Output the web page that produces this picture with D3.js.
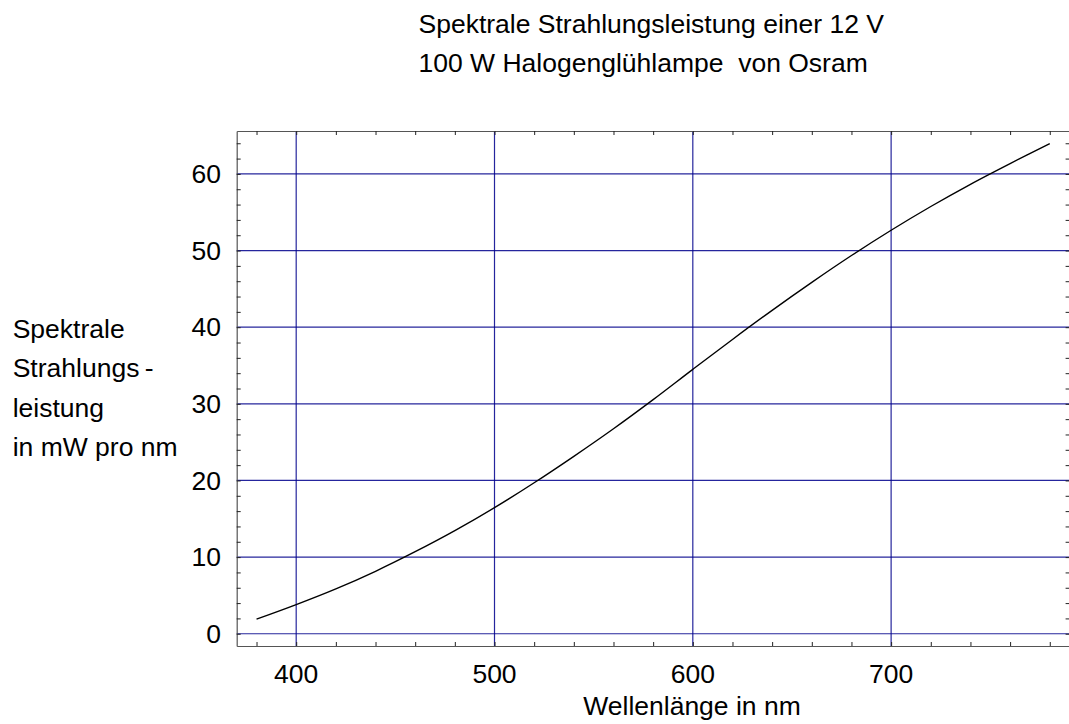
<!DOCTYPE html>
<html>
<head>
<meta charset="utf-8">
<script src="https://cdn.jsdelivr.net/npm/d3@7"></script>
<style>
  html, body { margin: 0; padding: 0; background: #fff; }
  svg { display: block; }
  text { font-family: "Liberation Sans", Arial, Helvetica, sans-serif; fill: #000; }
</style>
</head>
<body>
<svg id="chart" width="1069" height="724"></svg>
<script>
// Spectral radiant power of a 12 V / 100 W halogen lamp (mW per nm)
const wavelengths = [380, 400, 420, 440, 460, 480, 500, 520, 540, 560, 580, 600,
                     620, 640, 660, 680, 700, 720, 740, 760, 780];
const power = [1.9, 3.8, 5.85, 8.15, 10.7, 13.45, 16.45, 19.7, 23.15, 26.75, 30.55, 34.5,
               38.4, 42.2, 45.85, 49.35, 52.65, 55.75, 58.65, 61.35, 63.95];

const xMajorTicks = [400, 500, 600, 700];
const xMinorTicks = d3.range(380, 781, 20);
const yMajorTicks = [0, 10, 20, 30, 40, 50, 60];
const yMinorTicks = d3.range(0, 65, 2);

const titleLines = ["Spektrale Strahlungsleistung einer 12 V", "100 W Halogenglühlampe  von Osram"];
const yLabelLines = ["Spektrale", "Strahlungs\u2009-", "leistung", "in mW pro nm"];
const xLabel = "Wellenlänge in nm";

const svg = d3.select("#chart");
const plotLeft = 236.7, plotRight = 1069.6, plotTop = 131, plotBottom = 646;

const x = d3.scaleLinear().domain([370, 790]).range([plotLeft, plotRight]);
const y = d3.scaleLinear().domain([-1.6, 65.6]).range([plotBottom, plotTop]);

const gridColor = "#00008c";
const frameColor = "#555";

// grid lines
const grid = svg.append("g");
grid.selectAll("line.v").data(xMajorTicks).join("line")
  .attr("class", "v")
  .attr("x1", d => x(d)).attr("x2", d => x(d))
  .attr("y1", plotTop).attr("y2", plotBottom)
  .attr("stroke", gridColor).attr("stroke-width", 1.2).attr("opacity", 0.85);
grid.selectAll("line.h").data(yMajorTicks).join("line")
  .attr("class", "h")
  .attr("x1", plotLeft).attr("x2", plotRight)
  .attr("y1", d => y(d)).attr("y2", d => y(d))
  .attr("stroke", gridColor).attr("stroke-width", 1.2).attr("opacity", 0.85);

// frame axes with ticks pointing inward
function styleAxis(g) {
  g.select(".domain").attr("stroke", frameColor).attr("stroke-width", 1.2);
  g.selectAll(".tick line").attr("stroke", "#222").attr("stroke-width", 1);
  g.selectAll(".tick text").remove();
}

svg.append("g").attr("transform", `translate(0,${plotBottom})`)
  .call(d3.axisBottom(x).tickValues(xMinorTicks).tickSize(-4).tickSizeOuter(0)).call(styleAxis);
svg.append("g").attr("transform", `translate(0,${plotTop})`)
  .call(d3.axisTop(x).tickValues(xMinorTicks).tickSize(-4).tickSizeOuter(0)).call(styleAxis);
svg.append("g").attr("transform", `translate(${plotLeft},0)`)
  .call(d3.axisLeft(y).tickValues(yMinorTicks).tickSize(-4).tickSizeOuter(0)).call(styleAxis);
svg.append("g").attr("transform", `translate(${plotRight},0)`)
  .call(d3.axisRight(y).tickValues(yMinorTicks).tickSize(-4).tickSizeOuter(0)).call(styleAxis);

// tick labels
const fs = 26.5;
svg.append("g").selectAll("text").data(xMajorTicks).join("text")
  .attr("x", d => x(d)).attr("y", 682.5)
  .attr("text-anchor", "middle").attr("font-size", fs)
  .text(d => d);
svg.append("g").selectAll("text").data(yMajorTicks).join("text")
  .attr("x", 221).attr("y", d => y(d) + 9.3)
  .attr("text-anchor", "end").attr("font-size", fs)
  .text(d => d);

// curve
const line = d3.line()
  .x((d, i) => x(wavelengths[i]))
  .y(d => y(d))
  .curve(d3.curveCatmullRom.alpha(0.5));
svg.append("path").datum(power)
  .attr("d", line)
  .attr("fill", "none").attr("stroke", "#000").attr("stroke-width", 1.4);

// titles and labels
svg.append("g").selectAll("text").data(titleLines).join("text")
  .attr("x", 418.5).attr("y", (d, i) => 33.3 + i * 38.4)
  .attr("font-size", fs)
  .style("white-space", "pre")
  .text(d => d);

svg.append("g").selectAll("text").data(yLabelLines).join("text")
  .attr("x", 12.7).attr("y", (d, i) => 338.3 + i * 39.1)
  .attr("font-size", fs)
  .text(d => d);

svg.append("text")
  .attr("x", 692).attr("y", 715)
  .attr("text-anchor", "middle").attr("font-size", fs)
  .text(xLabel);
</script>
</body>
</html>
